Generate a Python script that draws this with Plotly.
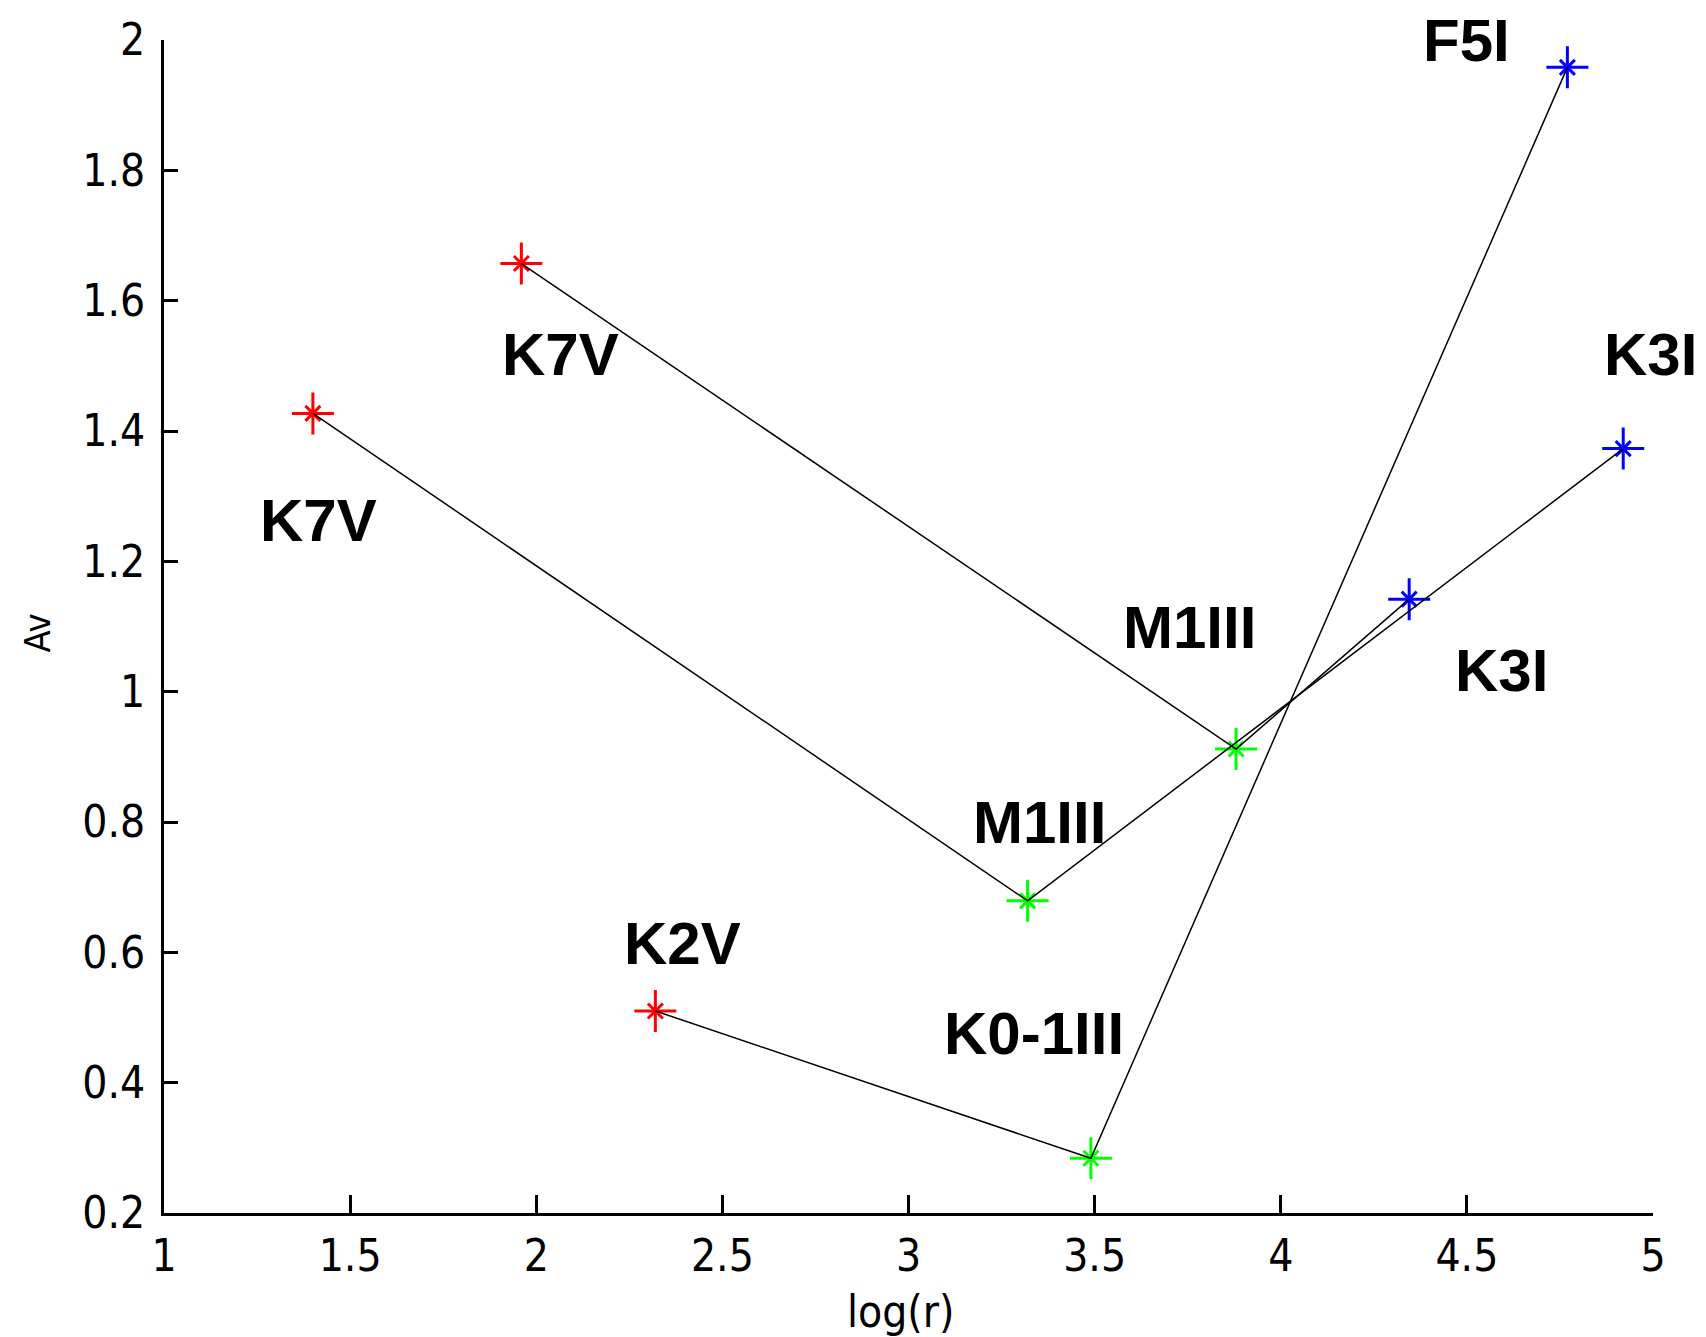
import plotly.graph_objects as go

# Data (log(r), Av) for each spectral-type chain
chain_x = [
    [1.40, 3.32, 4.92],
    [1.96, 3.88, 4.345],
    [2.32, 3.49, 4.77],
]
chain_y = [
    [1.427, 0.679, 1.373],
    [1.657, 0.912, 1.142],
    [0.510, 0.284, 1.958],
]
# point colour groups: first = red (V), second = green (III), third = blue (I)
group_colors = ["#ff0000", "#00ff00", "#0000ff"]

label_text = ["K7V", "K7V", "K2V", "M1III", "M1III", "K0-1III", "F5I", "K3I", "K3I"]
label_x = [2.064, 1.416, 2.392, 3.351, 3.754, 3.337, 4.50, 4.994, 4.592]
label_y = [1.518, 1.263, 0.613, 0.800, 1.098, 0.475, 1.960, 1.518, 1.032]
label_yshift = [0, 0, 0, 0, 0, 0, 26, 0, 0]

x_ticks = [1, 1.5, 2, 2.5, 3, 3.5, 4, 4.5, 5]
y_ticks = [0.2, 0.4, 0.6, 0.8, 1, 1.2, 1.4, 1.6, 1.8, 2]

fig = go.Figure()

# markers by group (MATLAB-like '*': plus + small x)
for g, col in enumerate(group_colors):
    xs = [cx[g] for cx in chain_x]
    ys = [cy[g] for cy in chain_y]
    fig.add_trace(go.Scatter(x=xs, y=ys, mode="markers", showlegend=False,
                             marker=dict(symbol="cross-thin-open", size=30, color=col,
                                         line=dict(color=col, width=3)),
                             cliponaxis=False, hoverinfo="skip"))
    fig.add_trace(go.Scatter(x=xs, y=ys, mode="markers", showlegend=False,
                             marker=dict(symbol="x-thin-open", size=15, color=col,
                                         line=dict(color=col, width=3)),
                             cliponaxis=False, hoverinfo="skip"))

# black connecting lines
for cx, cy in zip(chain_x, chain_y):
    fig.add_trace(go.Scatter(x=cx, y=cy, mode="lines", showlegend=False,
                             line=dict(color="black", width=1.5),
                             cliponaxis=False, hoverinfo="skip"))

for t, x, y, ys in zip(label_text, label_x, label_y, label_yshift):
    fig.add_annotation(x=x, y=y, text=f"<b>{t}</b>", showarrow=False,
                       xref="x", yref="y", yshift=ys,
                       font=dict(family="Liberation Sans, Arial, sans-serif",
                                 size=60, color="black"))

tick_font = dict(family="Liberation Sans Narrow, Arial Narrow, DejaVu Sans Condensed, sans-serif",
                 size=44, color="black")

# axis titles as annotations for exact placement
fig.add_annotation(x=0.495, y=0, xref="paper", yref="paper", text="log(r)",
                   showarrow=False, yshift=-98, yanchor="middle", xanchor="center",
                   font=tick_font)
fig.add_annotation(x=0, y=0.494, xref="paper", yref="paper", text="Av",
                   showarrow=False, xshift=-126, textangle=-90,
                   xanchor="center", yanchor="middle",
                   font=dict(family=tick_font["family"], size=36, color="black"))

fig.update_layout(
    width=1706, height=1337,
    margin=dict(l=156, r=61, t=32, b=132),
    paper_bgcolor="white", plot_bgcolor="white",
    font=tick_font,
    xaxis=dict(range=[1, 5], tickvals=x_ticks, ticktext=[f"{v:g}" for v in x_ticks],
               showgrid=False, zeroline=False, showline=True, linecolor="black",
               linewidth=3, ticks="inside", ticklen=18, tickwidth=3, tickcolor="black",
               tickfont=tick_font, ticklabelstandoff=2, automargin=False),
    yaxis=dict(range=[0.2, 2], tickvals=y_ticks, ticktext=[f"{v:g}" for v in y_ticks],
               showgrid=False, zeroline=False, showline=True, linecolor="black",
               linewidth=3, ticks="inside", ticklen=14, tickwidth=3, tickcolor="black",
               tickfont=tick_font, ticklabelstandoff=7, automargin=False),
)

fig.write_html("out.html")
